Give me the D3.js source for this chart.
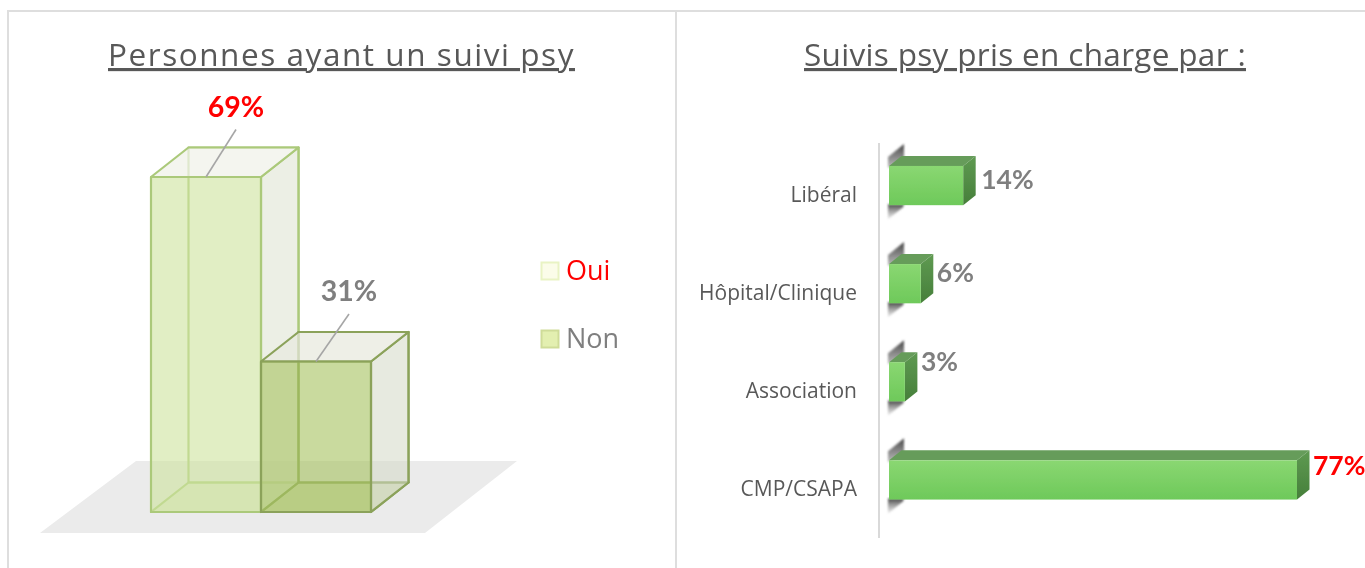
<!DOCTYPE html>
<html><head><meta charset="utf-8">
<script src="https://cdnjs.cloudflare.com/ajax/libs/d3/7.8.5/d3.min.js"></script>
<style>html,body{margin:0;padding:0;background:#fff;overflow:hidden}svg{display:block}text{font-family:"Open Sans",Lato,sans-serif}.num{font-family:Lato,"Open Sans",sans-serif}</style>
</head><body><svg id="c" width="1365" height="568"></svg>
<script>
const leftTitle = "Personnes ayant un suivi psy";
const rightTitle = "Suivis psy pris en charge par :";
const leftCats = ["Oui", "Non"];
const leftVals = [69, 31];
const rightCats = ["Libéral", "Hôpital/Clinique", "Association", "CMP/CSAPA"];
const rightVals = [14, 6, 3, 77];
const red = "#ff0000", gray = "#7f7f7f";

const root = d3.select("#c");
const defs = root.append("defs");
const grad = (id, stops, x2, y2) => {
  const g = defs.append("linearGradient").attr("id", id).attr("x1",0).attr("y1",0).attr("x2",x2).attr("y2",y2);
  stops.forEach(s => g.append("stop").attr("offset", s[0]).attr("stop-color", s[1]).attr("stop-opacity", s[2] ?? 1));
};
grad("front", [[0,"#8ad772"],[1,"#6ec95a"]], 0, 1);
grad("side", [[0,"#5f9a52"],[1,"#467f3a"]], 0, 1);
grad("shTop", [[0,"#444",1],[1,"#888",.6]], 0, 1);
grad("shBot", [[0,"#444",1],[1,"#aaa",.25]], 0, 1);
defs.append("filter").attr("id","blur").append("feGaussianBlur").attr("stdDeviation",1.1);
defs.append("filter").attr("id","soft").attr("filterUnits","userSpaceOnUse").attr("x",0).attr("y",0).attr("width",1365).attr("height",568)
  .append("feGaussianBlur").attr("stdDeviation",.4);
const svg = root.append("g").attr("filter","url(#soft)");
svg.append("rect").attr("width",1365).attr("height",568).attr("fill","#fff");

// panels
const frame = svg.append("g").attr("stroke","#dedede").attr("stroke-width",2).attr("fill","none");
frame.append("path").attr("d", d3.line()([[8,568],[8,11],[1365,11]]));
frame.append("path").attr("d", d3.line()([[676,11],[676,568]]));

// titles: letter spacing is derived from the measured width of the text
const title = (t, x, w) => {
  const el = svg.append("text").attr("x",x).attr("y",66).attr("font-size",31.5).attr("fill","#595959")
    .style("text-decoration","underline").text(t);
  const natural = el.node().getComputedTextLength();
  el.attr("letter-spacing", (w - natural) / t.length);
};
title(leftTitle, 108, 467);
title(rightTitle, 804, 442);

// LEFT: transparent 3D columns
const x3 = d3.scaleBand().domain(leftCats).range([151,371]).padding(0);
const y3 = d3.scaleLinear().domain([0,69]).range([512,177]);
const dx = 37.5, dy = -29.5;
const g3 = svg.append("g");
g3.append("polygon").attr("points",[[40,533],[425,533],[517,461],[136,461]].join(" ")).attr("fill","#ebebeb");

const styles = {
  Oui:{face:"#cfe3a0", op:.62, side:"#dfe5d4", sop:.6, stroke:"#abc97a", top:"#f0f2ea"},
  Non:{face:"#a8c463", op:.62, side:"#d4d8c6", sop:.55, stroke:"#8ba25a", top:"#e8eadf"}
};
leftCats.forEach((c,i) => {
  const s = styles[c], x0 = x3(c), x1 = x0 + x3.bandwidth(), yT = y3(leftVals[i]), yB = y3(0);
  const g = g3.append("g").attr("stroke",s.stroke).attr("stroke-width",2.2).attr("stroke-linejoin","round");
  const P = pts => pts.join(" ");
  g.append("polygon").attr("points",P([[x0,yB],[x1,yB],[x1+dx,yB+dy],[x0+dx,yB+dy]])).attr("fill",s.face).attr("fill-opacity",.35);
  g.append("polygon").attr("points",P([[x0+dx,yT+dy],[x1+dx,yT+dy],[x1+dx,yB+dy],[x0+dx,yB+dy]])).attr("fill","none");
  g.append("polygon").attr("points",P([[x1,yT],[x1+dx,yT+dy],[x1+dx,yB+dy],[x1,yB]])).attr("fill",s.side).attr("fill-opacity",s.sop);
  g.append("polygon").attr("points",P([[x0,yT],[x0+dx,yT+dy],[x1+dx,yT+dy],[x1,yT]])).attr("fill",s.top).attr("fill-opacity",.75);
  g.append("rect").attr("x",x0).attr("y",yT).attr("width",x1-x0).attr("height",yB-yT).attr("fill",s.face).attr("fill-opacity",s.op);
  const mx = (x0+x1)/2, lx = mx + (i ? 33 : 30), lyTop = yT - 47.5;
  svg.append("line").attr("x1",mx).attr("y1",yT).attr("x2",lx).attr("y2",lyTop).attr("stroke","#a6a6a6").attr("stroke-width",1.6);
});
leftCats.forEach((c,i) => {
  const x0 = x3(c), mx = x0 + x3.bandwidth()/2;
  svg.append("text").attr("class","num").attr("x",mx+(i?33:30)).attr("y",y3(leftVals[i])-60).attr("text-anchor","middle")
    .attr("font-size",28.5).attr("font-weight",700).attr("fill",i?gray:red).text(leftVals[i]+"%");
});

// legend
const legY = d3.scalePoint().domain(leftCats).range([271,339]);
const legCol = {Oui:["#fbfce9","#e9f3c4"], Non:["#e3efb0","#cfdc98"]};
leftCats.forEach((c,i) => {
  svg.append("rect").attr("x",541.5).attr("y",legY(c)-8.5).attr("width",17).attr("height",17)
    .attr("fill",legCol[c][0]).attr("stroke",legCol[c][1]).attr("stroke-width",2);
  svg.append("text").attr("x",566).attr("y",legY(c)+8.5).attr("font-size",27).attr("fill",i?gray:red).text(c);
});

// RIGHT: horizontal 3D bars
const xR = d3.scaleLinear().domain([0,77]).range([889,1297]);
const yR = d3.scaleBand().domain(rightCats).range([136.5,529]).paddingInner(.6).paddingOuter(.3);
svg.append("line").attr("x1",879).attr("x2",879).attr("y1",143).attr("y2",538).attr("stroke","#d9d9d9").attr("stroke-width",2);
const bx = 12.5, by = -10;
const labelDy = [3, -2, -11, -5];
rightCats.forEach((c,i) => {
  const y = yR(c), h = yR.bandwidth(), x0 = xR(0), x1 = xR(rightVals[i]);
  const g = svg.append("g");
  g.append("polygon").attr("points",[[x0-1,y+2],[x0-1,y-9],[x0+15,y-22],[x0+15,y-8]].join(" ")).attr("fill","url(#shTop)").attr("filter","url(#blur)");
  g.append("polygon").attr("points",[[x0-1,y+h-1],[x0+15,y+h-1],[x0+14,y+h+2],[x0-1,y+h+14]].join(" ")).attr("fill","url(#shBot)").attr("filter","url(#blur)");
  const b = g.append("g");
  b.append("polygon").attr("points",[[x0,y],[x0+bx,y+by],[x1+bx,y+by],[x1,y]].join(" ")).attr("fill","#669c5a");
  b.append("polygon").attr("points",[[x1,y],[x1+bx,y+by],[x1+bx,y+h+by],[x1,y+h]].join(" ")).attr("fill","url(#side)");
  b.append("rect").attr("x",x0).attr("y",y).attr("width",x1-x0).attr("height",h).attr("fill","url(#front)");
  svg.append("text").attr("x",857).attr("y",y+h/2+16.5).attr("text-anchor","end").attr("font-size",21).attr("fill","#595959").text(c);
  svg.append("text").attr("class","num").attr("x",x1+(i===3?16:(i===0?18:16))).attr("y",y+h/2+labelDy[i]).attr("font-size",26.5).attr("font-weight",700)
    .attr("fill",i===3?red:gray).text(rightVals[i]+"%");
});
</script></body></html>
